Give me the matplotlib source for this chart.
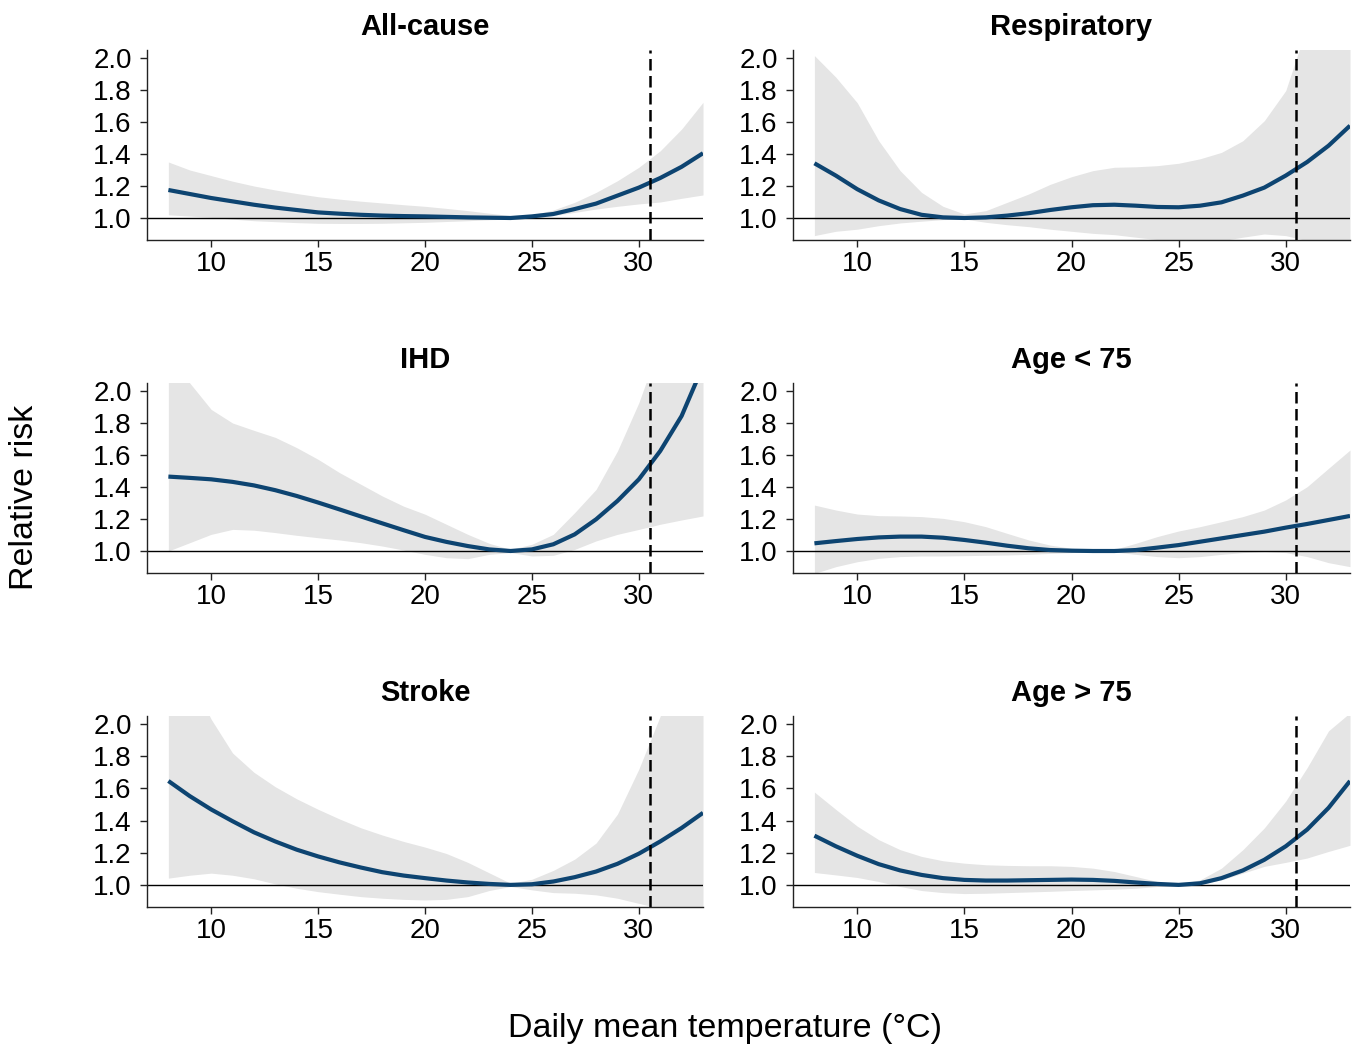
import matplotlib
matplotlib.use("Agg")
import matplotlib.pyplot as plt
import numpy as np

plt.rcParams['font.family'] = ['Liberation Sans', 'DejaVu Sans']

temp = list(range(8, 34))

titles = ["All-cause", "Respiratory", "IHD", "Age < 75", "Stroke", "Age > 75"]

allcause_rr = [1.175, 1.15, 1.125, 1.104, 1.083, 1.065, 1.05, 1.035, 1.027, 1.02, 1.015, 1.012, 1.01, 1.007, 1.004, 1.002, 1.0, 1.01, 1.025, 1.056, 1.09, 1.14, 1.19, 1.25, 1.32, 1.405]
allcause_hi = [1.35, 1.30, 1.265, 1.23, 1.20, 1.175, 1.153, 1.133, 1.118, 1.105, 1.094, 1.083, 1.073, 1.06, 1.046, 1.03, 1.015, 1.02, 1.05, 1.098, 1.16, 1.233, 1.317, 1.42, 1.556, 1.723]
allcause_lo = [1.02, 1.012, 1.004, 0.993, 0.983, 0.977, 0.971, 0.967, 0.966, 0.966, 0.967, 0.97, 0.973, 0.978, 0.983, 0.989, 0.994, 0.998, 1.015, 1.035, 1.056, 1.073, 1.088, 1.10, 1.123, 1.144]

resp_rr = [1.342, 1.265, 1.18, 1.11, 1.056, 1.02, 1.004, 1.0, 1.004, 1.015, 1.03, 1.05, 1.067, 1.08, 1.083, 1.077, 1.069, 1.067, 1.077, 1.098, 1.14, 1.19, 1.265, 1.35, 1.452, 1.577]
resp_hi = [2.015, 1.88, 1.72, 1.483, 1.296, 1.16, 1.073, 1.025, 1.046, 1.098, 1.15, 1.21, 1.258, 1.296, 1.317, 1.32, 1.327, 1.342, 1.37, 1.41, 1.483, 1.608, 1.796, 2.2, 2.6, 3.0]
resp_lo = [0.89, 0.917, 0.93, 0.952, 0.969, 0.98, 0.99, 0.994, 0.973, 0.958, 0.946, 0.93, 0.917, 0.904, 0.896, 0.88, 0.865, 0.858, 0.848, 0.858, 0.88, 0.9, 0.89, 0.858, 0.84, 0.84]

ihd_rr = [1.465, 1.457, 1.448, 1.432, 1.41, 1.38, 1.344, 1.303, 1.26, 1.216, 1.173, 1.13, 1.088, 1.057, 1.031, 1.01, 1.0, 1.01, 1.042, 1.104, 1.198, 1.313, 1.448, 1.625, 1.844, 2.156]
ihd_hi = [2.3, 2.05, 1.885, 1.80, 1.754, 1.71, 1.646, 1.573, 1.49, 1.417, 1.344, 1.28, 1.23, 1.167, 1.104, 1.048, 1.01, 1.042, 1.104, 1.24, 1.385, 1.625, 1.927, 2.3, 2.6, 3.0]
ihd_lo = [1.0, 1.052, 1.104, 1.135, 1.13, 1.115, 1.098, 1.083, 1.069, 1.052, 1.031, 1.006, 0.979, 0.958, 0.952, 0.979, 0.99, 0.969, 0.973, 1.01, 1.063, 1.104, 1.135, 1.167, 1.194, 1.219]

age_lt75_rr = [1.048, 1.062, 1.075, 1.085, 1.09, 1.09, 1.083, 1.069, 1.052, 1.033, 1.017, 1.006, 1.002, 1.0, 1.0, 1.006, 1.021, 1.037, 1.058, 1.079, 1.10, 1.121, 1.146, 1.169, 1.194, 1.219]
age_lt75_hi = [1.287, 1.256, 1.231, 1.221, 1.219, 1.215, 1.204, 1.183, 1.152, 1.11, 1.069, 1.037, 1.017, 1.006, 1.01, 1.048, 1.09, 1.125, 1.152, 1.183, 1.215, 1.256, 1.319, 1.402, 1.517, 1.631]
age_lt75_lo = [0.86, 0.902, 0.933, 0.954, 0.965, 0.969, 0.969, 0.971, 0.973, 0.975, 0.979, 0.985, 0.99, 0.994, 0.994, 0.979, 0.965, 0.958, 0.965, 0.979, 0.99, 0.996, 0.99, 0.965, 0.927, 0.902]

stroke_rr = [1.646, 1.552, 1.469, 1.396, 1.327, 1.27, 1.219, 1.177, 1.14, 1.108, 1.079, 1.058, 1.042, 1.027, 1.015, 1.006, 1.0, 1.004, 1.021, 1.048, 1.083, 1.131, 1.194, 1.27, 1.354, 1.448]
stroke_hi = [2.6, 2.3, 2.03, 1.82, 1.70, 1.61, 1.535, 1.47, 1.41, 1.355, 1.31, 1.27, 1.235, 1.195, 1.14, 1.075, 1.01, 1.035, 1.09, 1.16, 1.26, 1.44, 1.72, 2.05, 2.5, 3.0]
stroke_lo = [1.042, 1.06, 1.073, 1.06, 1.038, 1.006, 0.979, 0.958, 0.942, 0.927, 0.917, 0.91, 0.906, 0.91, 0.927, 0.965, 0.99, 0.969, 0.952, 0.948, 0.938, 0.917, 0.885, 0.854, 0.82, 0.80]

age_gt75_rr = [1.306, 1.24, 1.181, 1.129, 1.09, 1.062, 1.042, 1.031, 1.027, 1.027, 1.029, 1.031, 1.033, 1.031, 1.025, 1.015, 1.006, 1.0, 1.01, 1.042, 1.09, 1.156, 1.24, 1.344, 1.479, 1.646]
age_gt75_hi = [1.577, 1.469, 1.365, 1.281, 1.219, 1.177, 1.15, 1.135, 1.125, 1.121, 1.119, 1.119, 1.115, 1.104, 1.083, 1.052, 1.021, 1.006, 1.031, 1.104, 1.219, 1.354, 1.521, 1.729, 1.958, 2.07]
age_gt75_lo = [1.077, 1.062, 1.046, 1.021, 0.99, 0.965, 0.952, 0.946, 0.948, 0.952, 0.956, 0.96, 0.965, 0.969, 0.973, 0.979, 0.99, 0.998, 1.004, 1.031, 1.073, 1.115, 1.14, 1.167, 1.208, 1.246]

series = [
    (allcause_rr, allcause_lo, allcause_hi),
    (resp_rr, resp_lo, resp_hi),
    (ihd_rr, ihd_lo, ihd_hi),
    (age_lt75_rr, age_lt75_lo, age_lt75_hi),
    (stroke_rr, stroke_lo, stroke_hi),
    (age_gt75_rr, age_gt75_lo, age_gt75_hi),
]

threshold = 30.5
x_ticks = [10, 15, 20, 25, 30]
y_ticks = [1.0, 1.2, 1.4, 1.6, 1.8, 2.0]

W, H = 1355, 1048
fig = plt.figure(figsize=(W / 100, H / 100), dpi=100)

col_left = [147, 793]
col_right = [703, 1350]
row_top = [50, 383, 716]
row_bot = [240, 573, 907]

line_color = '#0d4471'

for i, (title, (rr, lo, hi)) in enumerate(zip(titles, series)):
    r, c = divmod(i, 2)
    x0 = col_left[c] / W
    w = (col_right[c] - col_left[c]) / W
    y0 = 1 - row_bot[r] / H
    h = (row_bot[r] - row_top[r]) / H
    ax = fig.add_axes([x0, y0, w, h])
    ax.fill_between(temp, lo, hi, color='#e5e5e5', linewidth=0, zorder=1)
    ax.axhline(1.0, color='black', lw=1.0, zorder=2)
    ax.plot(temp, rr, color=line_color, lw=3.0, zorder=3, solid_capstyle='butt',
            solid_joinstyle='round')
    ax.axvline(threshold, color='black', lw=1.8, ls=(0, (4.6, 2.2)), zorder=4)
    ax.set_xlim(7.0, 33.0)
    ax.set_ylim(0.8625, 2.05)
    ax.set_xticks(x_ticks)
    ax.set_yticks(y_ticks)
    ax.set_yticklabels([f"{v:.1f}" for v in y_ticks])
    for s in ['top', 'right']:
        ax.spines[s].set_visible(False)
    for s in ['left', 'bottom']:
        ax.spines[s].set_linewidth(1.0)
        ax.spines[s].set_color('#222222')
    ax.tick_params(axis='y', pad=6)
    ax.tick_params(axis='x', pad=3)
    ax.tick_params(axis='both', direction='out', length=5, width=1.0,
                   labelsize=20, colors='#222222', labelcolor='black')
    ax.set_title(title, fontsize=21, fontweight='bold', pad=11)

fig.text(25 / W, 1 - 497 / H, 'Relative risk', rotation=90, ha='center', va='center', fontsize=24.5)
fig.text(725 / W, 1 - 1028 / H, 'Daily mean temperature (°C)', ha='center', va='center', fontsize=24.5)

fig.savefig('out.png', dpi=100)
